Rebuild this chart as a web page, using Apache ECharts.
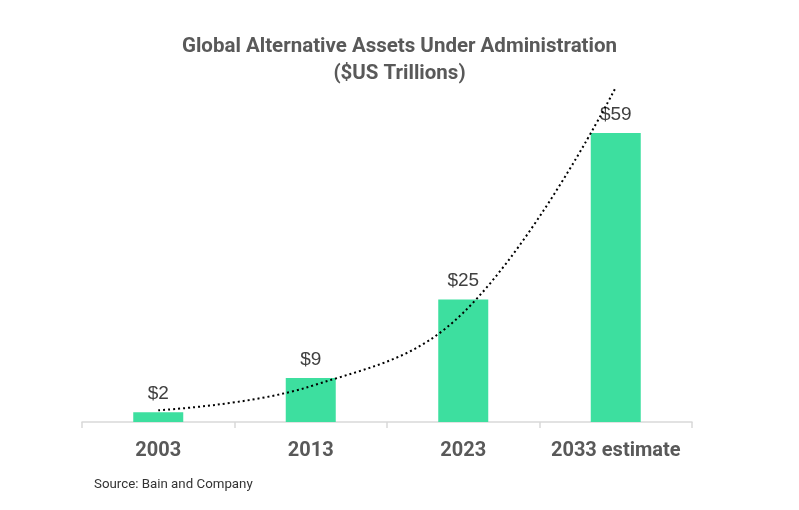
<!DOCTYPE html>
<html>
<head>
<meta charset="utf-8">
<script src="https://cdn.jsdelivr.net/npm/echarts@6/dist/echarts.min.js"></script>
<style>html,body{margin:0;padding:0;background:#fff}#c{width:799px;height:510px}</style>
</head>
<body>
<div id="c"></div>
<script>
var categories = ['2003', '2013', '2023', '2033 estimate'];
var assetValues = [2, 9, 25, 59];
var labelTexts = ['$2', '$9', '$25', '$59'];
// exponential trendline values read at each category centre
var trendValues = [2.4, 7.3, 22.3, 68.3];
var titleLines = ['Global Alternative Assets Under Administration', '($US Trillions)'];

var titleStyle = {fontFamily: 'Roboto', fontWeight: 'bold', fontSize: 20.5, fill: '#595959'};
var chart = echarts.init(document.getElementById('c'));
chart.setOption({
  animation: false,
  graphic: [{
    type: 'text', left: 'center', top: 36,
    style: Object.assign({text: titleLines[0]}, titleStyle)
  }, {
    type: 'text', left: 'center', top: 63,
    style: Object.assign({text: titleLines[1]}, titleStyle)
  }, {
    type: 'text', left: 94, top: 478,
    style: {text: 'Source: Bain and Company', fontFamily: 'Roboto', fontSize: 13.3, fill: '#333'}
  }],
  grid: {left: 82, right: 107, top: 79, bottom: 88, containLabel: false},
  xAxis: {
    type: 'category',
    data: categories,
    boundaryGap: true,
    axisLine: {lineStyle: {color: '#d9d9d9', width: 1.5}},
    axisTick: {show: true, interval: 0, length: 6, lineStyle: {color: '#d9d9d9', width: 1.5}},
    axisLabel: {interval: 0, margin: 19, fontFamily: 'Roboto', fontWeight: 'bold', fontSize: 20, color: '#595959'}
  },
  yAxis: {
    type: 'value', min: 0, max: 70, show: false,
    splitLine: {show: false}
  },
  series: [{
    type: 'bar',
    data: assetValues,
    barWidth: 50,
    itemStyle: {color: '#3ddf9f'},
    label: {
      show: true, position: 'top', distance: 9,
      formatter: function (p) { return labelTexts[p.dataIndex]; },
      fontFamily: 'Liberation Sans', fontSize: 19, color: '#404040'
    }
  }, {
    type: 'line',
    data: trendValues,
    smooth: 0.4,
    symbol: 'none',
    z: 5,
    lineStyle: {color: '#000', width: 2, type: [2, 3]}
  }]
});
</script>
</body>
</html>
